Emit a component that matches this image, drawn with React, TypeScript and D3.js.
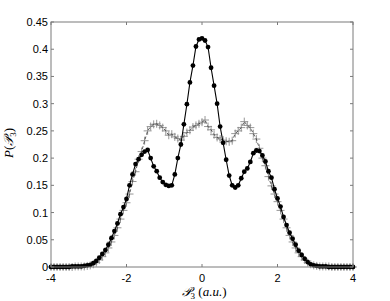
import React from "react";
import * as d3 from "d3";

const xStart = -4;
const xStep = 0.08;

const dotValues = [
  0.000, 0.000, 0.000, 0.000, 0.000, 0.000, 0.000, 0.001, 0.001, 0.001,
  0.001, 0.002, 0.003, 0.004, 0.007, 0.011, 0.017, 0.024, 0.031, 0.041,
  0.053, 0.066, 0.080, 0.097, 0.110, 0.125, 0.150, 0.170, 0.189, 0.198,
  0.206, 0.212, 0.215, 0.200, 0.185, 0.176, 0.164, 0.156, 0.151, 0.149,
  0.150, 0.170, 0.200, 0.225, 0.262, 0.299, 0.339, 0.370, 0.405, 0.418,
  0.420,
  0.416, 0.404, 0.366, 0.333, 0.300, 0.258, 0.228, 0.197, 0.168, 0.150,
  0.146, 0.150, 0.163, 0.175, 0.181, 0.193, 0.209, 0.214, 0.213, 0.205,
  0.194, 0.176, 0.164, 0.143, 0.126, 0.111, 0.092, 0.077, 0.063, 0.052,
  0.041, 0.030, 0.022, 0.015, 0.009, 0.005, 0.003, 0.002, 0.001, 0.001,
  0.001, 0.000, 0.000, 0.000, 0.000, 0.000, 0.000, 0.000, 0.000, 0.000,
];

const crossValues = [
  0.000, 0.000, 0.000, 0.000, 0.000, 0.000, 0.000, 0.000, 0.001, 0.001,
  0.001, 0.001, 0.002, 0.003, 0.005, 0.008, 0.013, 0.019, 0.026, 0.035,
  0.046, 0.058, 0.072, 0.088, 0.104, 0.118, 0.134, 0.157, 0.175, 0.198,
  0.212, 0.232, 0.250, 0.258, 0.262, 0.263, 0.260, 0.256, 0.250, 0.242,
  0.244, 0.239, 0.236, 0.233, 0.240, 0.247, 0.251, 0.257, 0.260, 0.263,
  0.266,
  0.270, 0.258, 0.252, 0.243, 0.238, 0.235, 0.233, 0.231, 0.230, 0.232,
  0.245, 0.250, 0.256, 0.267, 0.260, 0.256, 0.245, 0.235, 0.218, 0.200,
  0.186, 0.166, 0.149, 0.134, 0.120, 0.104, 0.088, 0.072, 0.058, 0.046,
  0.035, 0.026, 0.019, 0.013, 0.008, 0.005, 0.003, 0.002, 0.001, 0.001,
  0.001, 0.001, 0.000, 0.000, 0.000, 0.000, 0.000, 0.000, 0.000, 0.000,
];

const xTicks = [-4, -2, 0, 2, 4];
const yTicks = [0, 0.05, 0.1, 0.15, 0.2, 0.25, 0.3, 0.35, 0.4, 0.45];

const W = 390;
const H = 301;
const L = 51, R = 353, T = 22, B = 267;

export default function App() {
  const x = d3.scaleLinear().domain([-4, 4]).range([L, R]);
  const y = d3.scaleLinear().domain([0, 0.45]).range([B, T]);
  const dots = dotValues.map((v, i) => [xStart + i * xStep, v] as [number, number]);
  const crosses = crossValues.map((v, i) => [xStart + i * xStep, v] as [number, number]);
  const line = d3.line<[number, number]>().x((d) => x(d[0])).y((d) => y(d[1]));
  const axisColor = "#7a7a7a";
  const tickFont = "'Liberation Sans', Arial, sans-serif";
  const serif = "'Liberation Serif', 'DejaVu Serif', serif";
  return (
    <svg width={W} height={H} style={{ position: "absolute", left: 0, top: 0, background: "#fff" }}>
      <rect x={0} y={0} width={W} height={H} fill="#fff" />
      {/* crosses series */}
      {crosses.map((d, i) => (
        <g key={"c" + i} stroke="#8a8a8a" strokeWidth={0.9}>
          <line x1={x(d[0]) - 4} x2={x(d[0]) + 4} y1={y(d[1])} y2={y(d[1])} />
          <line x1={x(d[0])} x2={x(d[0])} y1={y(d[1]) - 4} y2={y(d[1]) + 4} />
        </g>
      ))}
      <path d={line(crosses) || ""} fill="none" stroke="#333" strokeWidth={0.8} strokeDasharray="3,2" />
      {/* dots series */}
      <path d={line(dots) || ""} fill="none" stroke="#000" strokeWidth={1.1} />
      {dots.map((d, i) => (
        <circle key={"d" + i} cx={x(d[0])} cy={y(d[1])} r={2.4} fill="#000" />
      ))}
      {/* frame */}
      <rect x={L} y={T} width={R - L} height={B - T} fill="none" stroke={axisColor} strokeWidth={1} />
      {xTicks.map((t) => (
        <g key={"xt" + t}>
          <line x1={x(t)} x2={x(t)} y1={B} y2={B - 3} stroke={axisColor} />
          <line x1={x(t)} x2={x(t)} y1={T} y2={T + 3} stroke={axisColor} />
          <text x={x(t)} y={282} textAnchor="middle" fontFamily={tickFont} fontSize={11} fill="#000">
            {String(t)}
          </text>
        </g>
      ))}
      {yTicks.map((t) => (
        <g key={"yt" + t}>
          <line x1={L} x2={L + 3} y1={y(t)} y2={y(t)} stroke={axisColor} />
          <line x1={R} x2={R - 3} y1={y(t)} y2={y(t)} stroke={axisColor} />
          <text x={48} y={y(t) + 4} textAnchor="end" fontFamily={tickFont} fontSize={11} fill="#000">
            {d3.format("~g")(t)}
          </text>
        </g>
      ))}
      {/* x label */}
      <text x={204} y={296} textAnchor="middle" fontFamily={serif} fontSize={13} fill="#000">
        <tspan fontStyle="italic">𝒫</tspan>
        <tspan fontSize={9} dy={3}>3</tspan>
        <tspan dy={-3}> (</tspan>
        <tspan fontStyle="italic">a.u.</tspan>
        <tspan>)</tspan>
      </text>
      {/* y label */}
      <text transform={`translate(13,143) rotate(-90)`} textAnchor="middle" fontFamily={serif} fontSize={13} fill="#000">
        <tspan fontStyle="italic">P</tspan>
        <tspan>(</tspan>
        <tspan fontStyle="italic">𝒫</tspan>
        <tspan fontSize={9} dy={3}>3</tspan>
        <tspan dy={-3}>)</tspan>
      </text>
    </svg>
  );
}
